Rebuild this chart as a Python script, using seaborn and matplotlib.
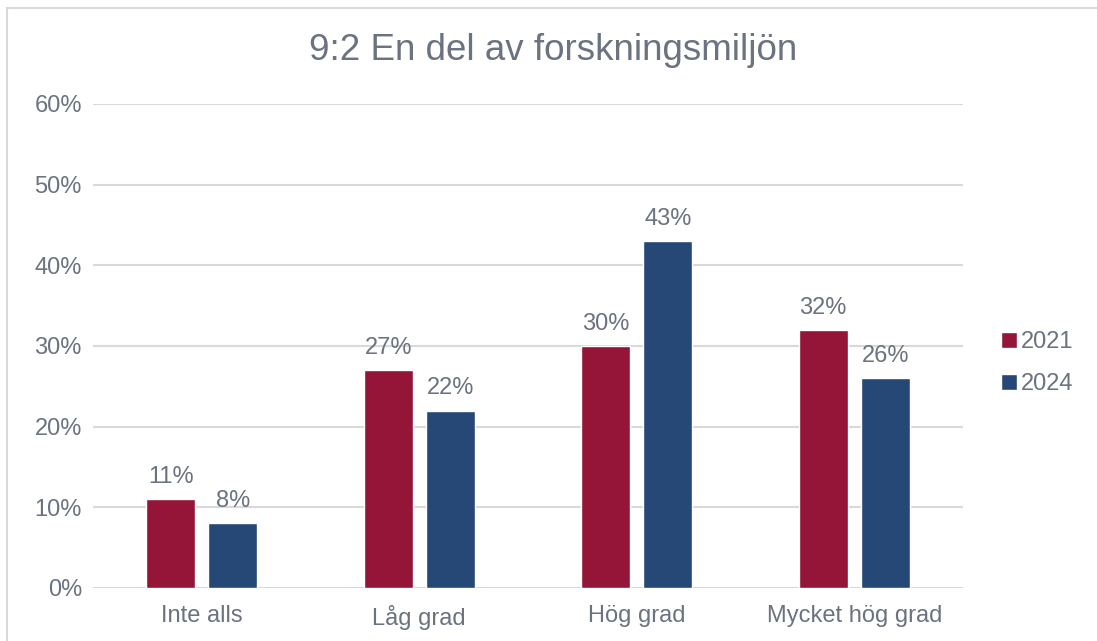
import pandas as pd
import seaborn as sns
import matplotlib.pyplot as plt
from matplotlib.patches import Rectangle

# values (percent)
categories = ['Inte alls', 'Låg grad', 'Hög grad', 'Mycket hög grad']
years = ['2021', '2024']
values_2021 = [11, 27, 30, 32]
values_2024 = [8, 22, 43, 26]
y_ticks = [0, 10, 20, 30, 40, 50, 60]

df = pd.DataFrame({
    'kategori': categories * 2,
    'år': [years[0]] * 4 + [years[1]] * 4,
    'andel': values_2021 + values_2024,
})

sns.set_theme(style='white')
plt.rcParams['font.family'] = ['Liberation Sans', 'DejaVu Sans']

text_col = '#6b7280'
grid_col = '#d9d9d9'
palette = {'2021': '#951538', '2024': '#264876'}

fig = plt.figure(figsize=(10.97, 6.41), dpi=100)
ax = fig.add_axes([0.0848, 0.0827, 0.793, 0.7551])

sns.barplot(data=df, x='kategori', y='andel', hue='år', order=categories,
            hue_order=years, palette=palette, width=0.57, gap=0.21,
            saturation=1, ax=ax, zorder=3)

for cont in ax.containers:
    ax.bar_label(cont, fmt='%.0f%%', padding=8, fontsize=17, color=text_col)

ax.set_ylim(0, 60)
ax.set_yticks(y_ticks)
ax.set_yticklabels([f'{t}%' for t in y_ticks])
ax.set_xlabel('')
ax.set_ylabel('')
ax.yaxis.grid(True, color=grid_col, linewidth=1.5, zorder=0)
ax.set_axisbelow(True)
sns.despine(ax=ax, left=True, bottom=True, top=True, right=True)
ax.tick_params(axis='both', length=0, labelsize=17, labelcolor=text_col)
ax.tick_params(axis='x', pad=12)
ax.tick_params(axis='y', pad=8)

ax.legend(loc='center left', bbox_to_anchor=(0.893, 0.433), bbox_transform=fig.transFigure,
          frameon=False, fontsize=17, labelcolor=text_col, handlelength=0.7,
          handleheight=0.7, handletextpad=0.15, labelspacing=0.85)

fig.suptitle('9:2 En del av forskningsmiljön', x=0.504, y=0.948, fontsize=26.5,
             color=text_col)

# outer chart frame
fig.patches.append(Rectangle((0.0064, -0.1), 1.2, 1.0875, transform=fig.transFigure,
                             fill=False, edgecolor=grid_col, linewidth=1.5))

fig.savefig('out.png', dpi=100)
